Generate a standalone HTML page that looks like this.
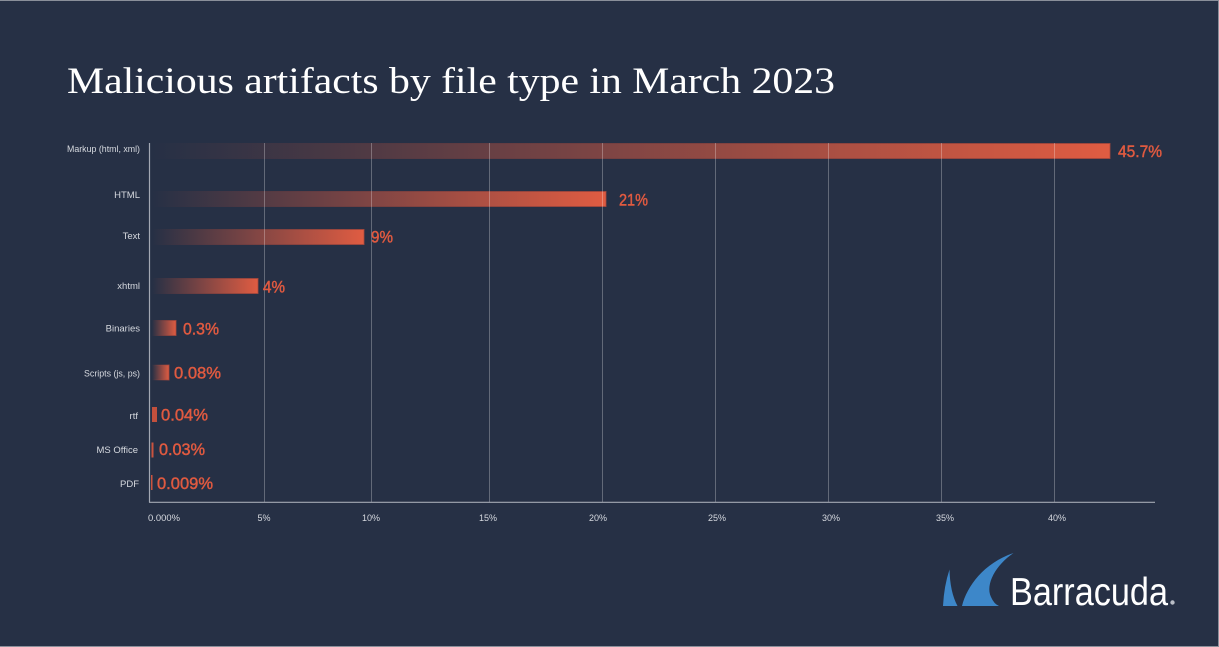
<!DOCTYPE html>
<html>
<head>
<meta charset="utf-8">
<style>
  html,body{margin:0;padding:0;background:#263045;}
  body{width:1219px;height:647px;overflow:hidden;}
  svg{display:block;}
</style>
</head>
<body>
<svg width="1219" height="647" viewBox="0 0 1219 647" xmlns="http://www.w3.org/2000/svg">
  <defs>
    <linearGradient id="g" x1="0" y1="0" x2="1" y2="0">
      <stop offset="0" stop-color="#e05c42" stop-opacity="0"/>
      <stop offset="1" stop-color="#e05c42" stop-opacity="1"/>
    </linearGradient>
    <linearGradient id="gs" x1="0" y1="0" x2="1" y2="0">
      <stop offset="0" stop-color="#a8473b" stop-opacity="0"/>
      <stop offset="1" stop-color="#a8473b" stop-opacity="0.8"/>
    </linearGradient>
  </defs>
  <rect x="0" y="0" width="1219" height="647" fill="#263045"/>
  <!-- frame lines -->
  <rect x="0" y="0" width="1219" height="1" fill="#8a8f9a"/>
  <rect x="0" y="646" width="1219" height="1" fill="#8a8f9a"/>
  <rect x="1218" y="0" width="1" height="647" fill="#8a8f9a"/>

  <!-- title -->
  <text x="67" y="93" font-family="Liberation Serif, serif" font-size="37" fill="#ffffff" textLength="768" lengthAdjust="spacingAndGlyphs">Malicious artifacts by file type in March 2023</text>

  <!-- bars -->
  <g stroke="url(#gs)" stroke-width="1">
    <rect x="152" y="143.5" width="958" height="15" fill="url(#g)"/>
    <rect x="152" y="191.5" width="454" height="15" fill="url(#g)"/>
    <rect x="152" y="229.5" width="212" height="15" fill="url(#g)"/>
    <rect x="152" y="278.5" width="106" height="15" fill="url(#g)"/>
    <rect x="152" y="320.5" width="24" height="15" fill="url(#g)"/>
    <rect x="152" y="365" width="17" height="15" fill="url(#g)"/>
  </g>
  <rect x="152" y="407" width="5" height="15" fill="#c2503d"/>
  <rect x="151.5" y="442.5" width="2" height="15" fill="#c9533f"/>
  <rect x="151" y="475" width="1.5" height="15" fill="#c9533f"/>

  <!-- gridlines -->
  <g stroke="#ffffff" stroke-opacity="0.28" stroke-width="1">
    <line x1="264.5" y1="143" x2="264.5" y2="502"/>
    <line x1="371.5" y1="143" x2="371.5" y2="502"/>
    <line x1="489.5" y1="143" x2="489.5" y2="502"/>
    <line x1="602.5" y1="143" x2="602.5" y2="502"/>
    <line x1="715.5" y1="143" x2="715.5" y2="502"/>
    <line x1="828.5" y1="143" x2="828.5" y2="502"/>
    <line x1="941.5" y1="143" x2="941.5" y2="502"/>
    <line x1="1054.5" y1="143" x2="1054.5" y2="502"/>
  </g>
  <!-- axes -->
  <line x1="149.5" y1="143" x2="149.5" y2="502.5" stroke="#a3a8b3" stroke-width="1.2"/>
  <line x1="149" y1="502.3" x2="1155" y2="502.3" stroke="#a3a8b3" stroke-width="1.2"/>

  <!-- category labels -->
  <g font-family="Liberation Sans, sans-serif" font-size="9.5" fill="#d6d9df" text-anchor="end">
    <text x="140" y="152" textLength="73" lengthAdjust="spacingAndGlyphs">Markup (html, xml)</text>
    <text x="140" y="198">HTML</text>
    <text x="140" y="239">Text</text>
    <text x="140" y="289">xhtml</text>
    <text x="140" y="331.5">Binaries</text>
    <text x="140" y="376.5" textLength="56" lengthAdjust="spacingAndGlyphs">Scripts (js, ps)</text>
    <text x="138" y="419">rtf</text>
    <text x="138" y="453">MS Office</text>
    <text x="139" y="487">PDF</text>
  </g>

  <!-- value labels -->
  <g font-family="Liberation Sans, sans-serif" font-size="16.5" fill="#e05a40" stroke="#e05a40" stroke-width="0.45">
    <text x="1118" y="157" textLength="44" lengthAdjust="spacingAndGlyphs">45.7%</text>
    <text x="619" y="205.5" textLength="29" lengthAdjust="spacingAndGlyphs">21%</text>
    <text x="371" y="242.5" textLength="22" lengthAdjust="spacingAndGlyphs">9%</text>
    <text x="263" y="292.5" textLength="22" lengthAdjust="spacingAndGlyphs">4%</text>
    <text x="183" y="334.5" textLength="36" lengthAdjust="spacingAndGlyphs">0.3%</text>
    <text x="174" y="378.5" textLength="47" lengthAdjust="spacingAndGlyphs">0.08%</text>
    <text x="161" y="420.5" textLength="47" lengthAdjust="spacingAndGlyphs">0.04%</text>
    <text x="159" y="455" textLength="46" lengthAdjust="spacingAndGlyphs">0.03%</text>
    <text x="157" y="489" textLength="56" lengthAdjust="spacingAndGlyphs">0.009%</text>
  </g>

  <!-- tick labels -->
  <g font-family="Liberation Sans, sans-serif" font-size="9" fill="#d6d9df" text-anchor="middle">
    <text x="164" y="521" textLength="32" lengthAdjust="spacingAndGlyphs">0.000%</text>
    <text x="264" y="521">5%</text>
    <text x="371" y="521">10%</text>
    <text x="488" y="521">15%</text>
    <text x="598" y="521">20%</text>
    <text x="717" y="521">25%</text>
    <text x="831" y="521">30%</text>
    <text x="945" y="521">35%</text>
    <text x="1057" y="521">40%</text>
  </g>

  <!-- logo -->
  <g fill="#3d87c9">
    <path d="M943,606 Q944,586 949.5,569.5 Q950,592 957.5,606 Z"/>
    <path d="M962,606 C967,586 984,563 1013.5,553 C996,565 985,584 991,597 Q994,604 999,606 Z"/>
  </g>
  <text x="1010" y="605" font-family="Liberation Sans, sans-serif" font-size="39" fill="#ffffff" textLength="158" lengthAdjust="spacingAndGlyphs">Barracuda</text>
  <circle cx="1172.5" cy="602.5" r="2.2" fill="#b9bdc6"/>
</svg>
</body>
</html>
